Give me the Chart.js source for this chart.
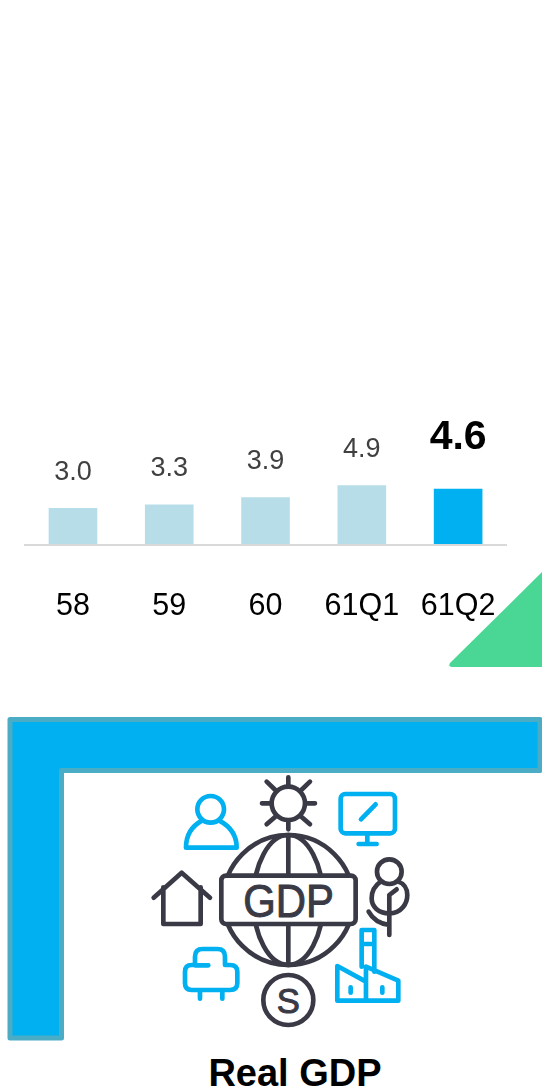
<!DOCTYPE html>
<html>
<head>
<meta charset="utf-8">
<style>
html,body{margin:0;padding:0;background:#fff;width:542px;height:1092px;overflow:hidden}
#art,#c{position:absolute;left:0;top:0}
</style>
<script src="https://cdn.jsdelivr.net/npm/chart.js@4"></script>
</head>
<body>
<svg id="art" width="542" height="1092" viewBox="0 0 542 1092" xmlns="http://www.w3.org/2000/svg">
  <path d="M542 572 L450 663 Q448 667 452 667 L542 667 Z" fill="#4ad795"/>
  <path d="M10 719.5 H540 V770.5 H61.5 V1038 H10 Z" fill="#00b0f0" stroke="#4bacc6" stroke-width="5" stroke-linejoin="round"/>
  <g transform="translate(130 770) scale(0.3333)" fill="none" stroke-linecap="round" stroke-linejoin="round">
    <g stroke="#3a3a46" stroke-width="14">
      <circle cx="475" cy="390" r="195"/>
      <ellipse cx="475" cy="390" rx="105" ry="195"/>
      <path d="M475 195 V585"/>
      <rect x="274" y="317" width="403" height="145" rx="14" fill="#fff"/>
      <circle cx="475" cy="100" r="50"/>
      <path d="M475 22 V48 M475 152 V178 M396 100 H423 M527 100 H555 M410 35 L436 60 M540 35 L514 60 M410 163 L436 140 M540 163 L514 140"/>
      <path d="M71 383 L155 308 L240 383 M100 352 V462 H212 V352"/>
      <circle cx="778" cy="305" r="37"/>
      <path d="M752 335 C730 350 725 370 725 385 C725 410 745 430 778 430 C815 430 832 400 832 375 C832 355 820 340 805 335"/>
      <path d="M778 495 V375 L800 358 M716 425 Q735 460 778 465"/>
      <circle cx="475" cy="690" r="75"/>
    </g>
    <g stroke="#00b0f0" stroke-width="14">
      <circle cx="242" cy="118" r="40"/>
      <path d="M168 233 H320 C320 195 298 168 268 152 M216 152 C190 166 168 190 168 233"/>
      <rect x="632" y="72" width="163" height="118" rx="14"/>
      <path d="M693 148 L737 103 M712 190 V222 M686 222 H740"/>
      <path d="M235 586 H195 V560 Q195 537 218 537 H262 Q285 537 285 560 V585 H300 Q322 585 322 605 V640 Q322 660 300 660 H185 Q165 660 165 640 V605 Q165 585 185 585 H195 M210 660 V686 M277 660 V686"/>
      <path d="M622 692 V588 L708 635 V590 L805 632 V692 Z M708 635 V692 M695 590 V480 H733 V605 M695 522 H733"/>
      <path d="M662 652 V668 M757 652 V668"/>
    </g>
    <text x="476" y="440" text-anchor="middle" font-family="Liberation Sans" font-size="136" textLength="272" lengthAdjust="spacingAndGlyphs" fill="#3a3a46" stroke="#3a3a46" stroke-width="3">GDP</text>
    <text x="475" y="728" text-anchor="middle" font-family="Liberation Sans" font-size="104" fill="#3a3a46" stroke="#3a3a46" stroke-width="3">S</text>
  </g>
  <text x="295" y="1086" text-anchor="middle" font-family="Liberation Sans" font-weight="700" font-size="38" fill="#000">Real GDP</text>
</svg>
<canvas id="c" width="542" height="1092"></canvas>
<script>
const categories = ["58", "59", "60", "61Q1", "61Q2"];
const gdpValues = [3.0, 3.3, 3.9, 4.9, 4.6];
const valueLabels = ["3.0", "3.3", "3.9", "4.9", "4.6"];
const barColors = ["#b7dde9", "#b7dde9", "#b7dde9", "#b7dde9", "#00b0f0"];

const valueLabelPlugin = {
  id: "valueLabels",
  afterDatasetsDraw(chart) {
    const ctx = chart.ctx;
    const meta = chart.getDatasetMeta(0);
    ctx.save();
    ctx.textAlign = "center";
    ctx.textBaseline = "alphabetic";
    meta.data.forEach((bar, i) => {
      const last = i === valueLabels.length - 1;
      ctx.font = last ? "700 41px 'Liberation Sans'" : "27px 'Liberation Sans'";
      ctx.fillStyle = last ? "#000000" : "#404040";
      ctx.fillText(valueLabels[i], bar.x, bar.y - (last ? 40 : 28));
    });
    ctx.restore();
  }
};

new Chart(document.getElementById("c"), {
  type: "bar",
  data: {
    labels: categories,
    datasets: [{ data: gdpValues, backgroundColor: barColors, borderWidth: 0,
                 barPercentage: 0.505, categoryPercentage: 1 }]
  },
  options: {
    responsive: false,
    animation: false,
    devicePixelRatio: 1,
    layout: { padding: { left: 24.8, right: 35.7, top: 424, bottom: 0 } },
    plugins: { legend: { display: false }, tooltip: { enabled: false }, title: { display: false } },
    scales: {
      y: { display: false, min: -0.0833, max: 10 },
      x: {
        afterFit(scale) { scale.height = 547; },
        grid: { display: false, drawTicks: false },
        border: { display: true, color: "#d9d9d9", width: 2 },
        ticks: { color: "#000000", padding: 43, maxRotation: 0, autoSkip: false,
                 font: { family: "'Liberation Sans'", size: 30.5 } }
      }
    }
  },
  plugins: [valueLabelPlugin]
});
</script>
</body>
</html>
